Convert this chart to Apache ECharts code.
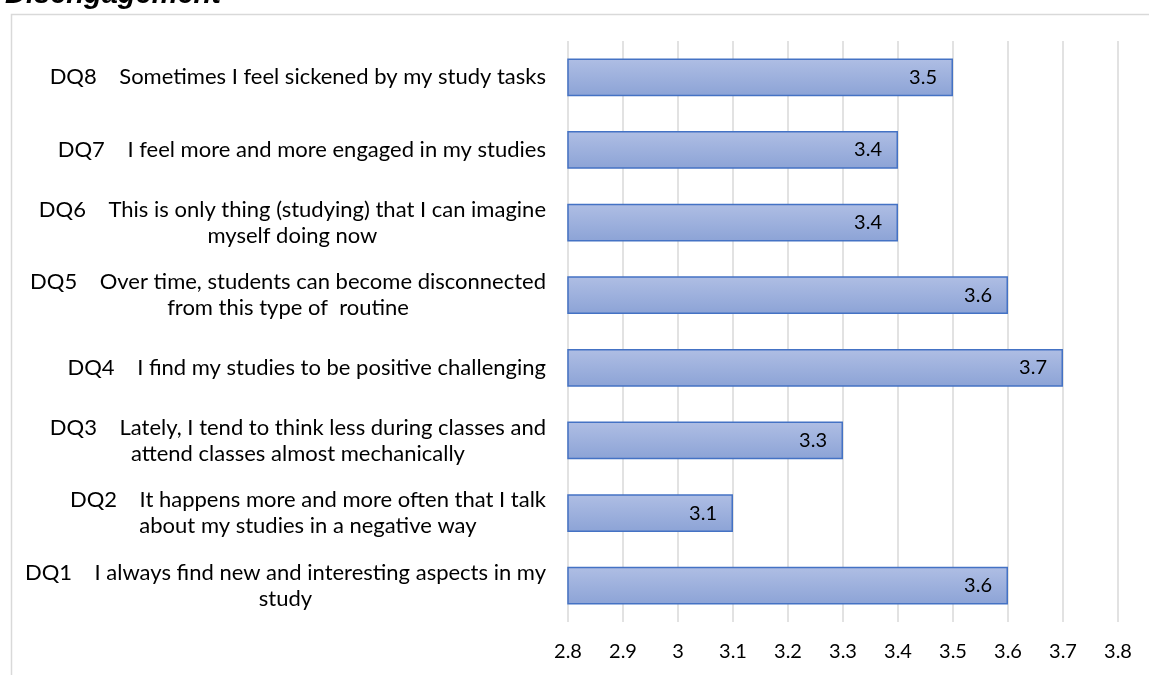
<!DOCTYPE html>
<html>
<head>
<meta charset="utf-8">
<script src="https://cdn.jsdelivr.net/npm/echarts@6/dist/echarts.min.js"></script>
<style>html,body{margin:0;padding:0;background:#fff}#c{width:1149px;height:675px}</style>
</head>
<body>
<div id="c"></div>
<script>
const titleText = 'Disengagement';
const categories = [
  'DQ1    I always find new and interesting aspects in my\nstudy',
  'DQ2    It happens more and more often that I talk\nabout my studies in a negative way',
  'DQ3    Lately, I tend to think less during classes and\nattend classes almost mechanically',
  'DQ4    I find my studies to be positive challenging',
  'DQ5    Over time, students can become disconnected\nfrom this type of  routine',
  'DQ6    This is only thing (studying) that I can imagine\nmyself doing now',
  'DQ7    I feel more and more engaged in my studies',
  'DQ8    Sometimes I feel sickened by my study tasks'
];
const values = [3.6, 3.1, 3.3, 3.7, 3.6, 3.4, 3.4, 3.5];
const axisMin = 2.8, axisMax = 3.8, axisStep = 0.1;

const FONT = 'Lato';
const chart = echarts.init(document.getElementById('c'));
chart.setOption({
  animation: false,
  title: {
    text: titleText, left: 0, top: -25,
    textStyle: {fontSize: 29, fontWeight: 'bold', fontStyle: 'italic', fontFamily: 'Liberation Sans', color: '#000'}
  },
  graphic: [{
    type: 'rect', left: 9, top: 12, z: -1,
    shape: {width: 1300, height: 800},
    style: {fill: 'none', stroke: '#D9D9D9', lineWidth: 1.5}
  }],
  grid: {left: 568, right: 31, top: 41, bottom: 53},
  xAxis: {
    type: 'value', min: axisMin, max: axisMax, interval: axisStep,
    axisLine: {show: false}, axisTick: {show: false},
    splitLine: {lineStyle: {color: '#D9D9D9', width: 1.5}},
    axisLabel: {
      margin: 20, fontSize: 20, fontFamily: FONT, color: '#000',
      formatter: v => String(Math.round(v * 10) / 10)
    }
  },
  yAxis: {
    type: 'category', data: categories,
    axisLine: {show: false}, axisTick: {show: false},
    axisLabel: {
      margin: 22, fontSize: 22, fontFamily: FONT, color: '#000', lineHeight: 26,
      formatter: s => s.split('\n').map(l => '{c|' + l + '}').join('\n'),
      rich: {c: {align: 'center', fontSize: 22, fontFamily: FONT, color: '#000', lineHeight: 26}}
    }
  },
  series: [{
    type: 'bar', data: values, barCategoryGap: '48%',
    itemStyle: {
      color: new echarts.graphic.LinearGradient(0, 0, 0, 1, [
        {offset: 0, color: '#AFBEE4'}, {offset: 1, color: '#8CA3D6'}
      ]),
      borderColor: '#4472C4', borderWidth: 1.5
    },
    label: {
      show: true, position: 'insideRight', distance: 16,
      fontSize: 20, fontFamily: FONT, color: '#000',
      formatter: p => p.value.toFixed(1)
    }
  }]
});
</script>
</body>
</html>
